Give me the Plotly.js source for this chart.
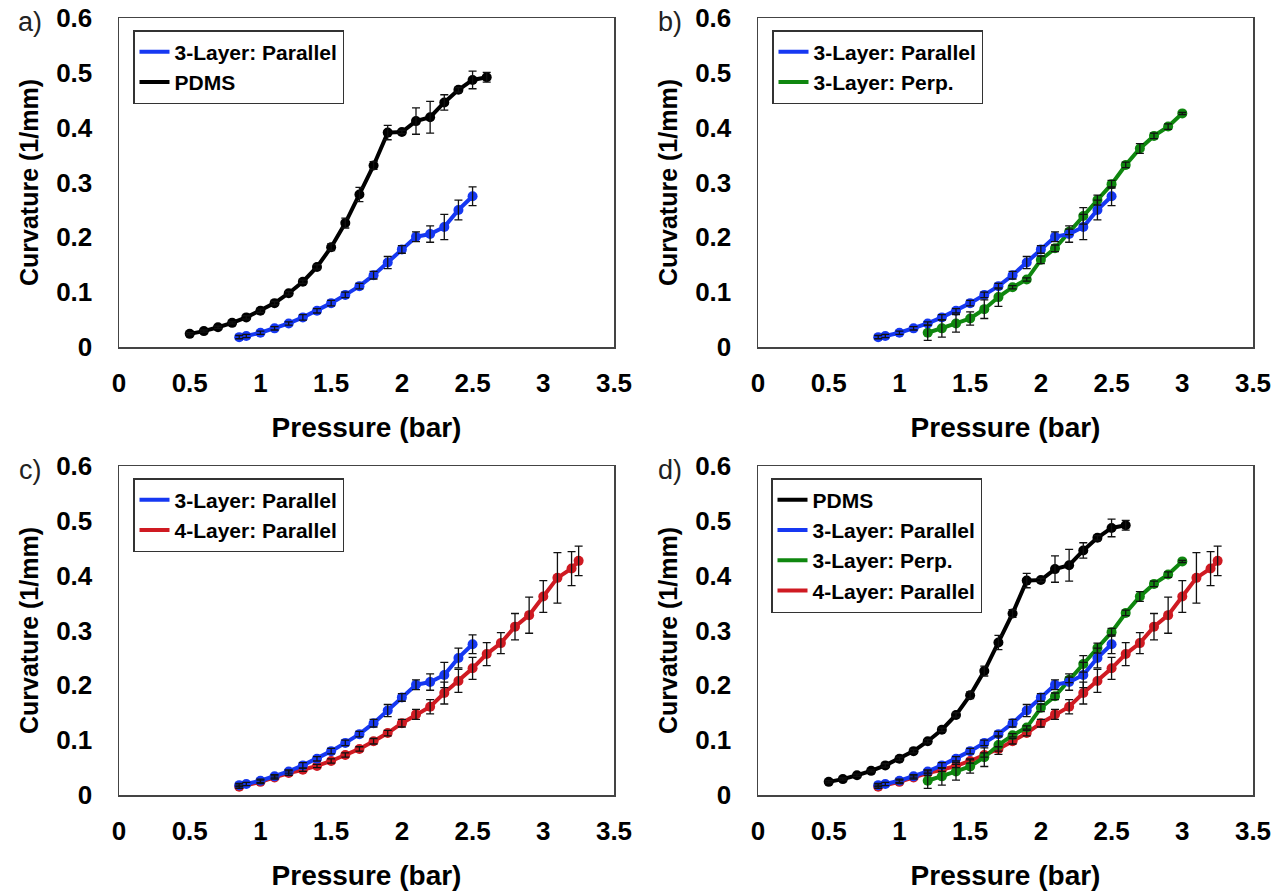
<!DOCTYPE html>
<html>
<head>
<meta charset="utf-8">
<script src="https://cdn.plot.ly/plotly-3.0.1.min.js"></script>
<style>html,body{margin:0;padding:0;background:#fff;}#chart{width:1283px;height:895px;}</style>
</head>
<body>
<div id="chart"></div>
<script>
// ---- Data (pressure in bar, curvature in 1/mm, error = +/- std) ----
const pdmsX   = [0.5, 0.6, 0.7, 0.8, 0.9, 1.0, 1.1, 1.2, 1.3, 1.4, 1.5, 1.6, 1.7, 1.8, 1.9, 2.0, 2.1, 2.2, 2.3, 2.4, 2.5, 2.6];
const pdmsY   = [0.024, 0.029, 0.036, 0.044, 0.054, 0.066, 0.080, 0.098, 0.119, 0.146, 0.182, 0.226, 0.278, 0.331, 0.391, 0.392, 0.412, 0.419, 0.446, 0.469, 0.487, 0.492];
const pdmsErr = [0.002, 0.002, 0.002, 0.002, 0.003, 0.003, 0.003, 0.003, 0.003, 0.004, 0.006, 0.009, 0.013, 0.007, 0.013, 0.003, 0.024, 0.029, 0.014, 0.004, 0.016, 0.009];

const par3X   = [0.85, 0.9, 1.0, 1.1, 1.2, 1.3, 1.4, 1.5, 1.6, 1.7, 1.8, 1.9, 2.0, 2.1, 2.2, 2.3, 2.4, 2.5];
const par3Y   = [0.018, 0.020, 0.026, 0.034, 0.043, 0.054, 0.066, 0.080, 0.095, 0.111, 0.131, 0.154, 0.178, 0.201, 0.206, 0.219, 0.250, 0.275];
const par3Err = [0.003, 0.003, 0.003, 0.003, 0.003, 0.005, 0.004, 0.005, 0.005, 0.005, 0.007, 0.011, 0.007, 0.009, 0.015, 0.023, 0.018, 0.017];

const perp3X   = [1.2, 1.3, 1.4, 1.5, 1.6, 1.7, 1.8, 1.9, 2.0, 2.1, 2.2, 2.3, 2.4, 2.5, 2.6, 2.7, 2.8, 2.9, 3.0];
const perp3Y   = [0.026, 0.034, 0.043, 0.052, 0.069, 0.091, 0.109, 0.123, 0.159, 0.180, 0.210, 0.239, 0.268, 0.297, 0.332, 0.362, 0.385, 0.402, 0.426];
const perp3Err = [0.014, 0.016, 0.016, 0.012, 0.017, 0.017, 0.003, 0.003, 0.007, 0.006, 0.005, 0.015, 0.009, 0.007, 0.005, 0.009, 0.005, 0.005, 0.002];

const par4X   = [0.85, 1.0, 1.1, 1.2, 1.3, 1.4, 1.5, 1.6, 1.7, 1.8, 1.9, 2.0, 2.1, 2.2, 2.3, 2.4, 2.5, 2.6, 2.7, 2.8, 2.9, 3.0, 3.1, 3.2, 3.25];
const par4Y   = [0.015, 0.024, 0.032, 0.040, 0.046, 0.053, 0.062, 0.073, 0.084, 0.098, 0.113, 0.131, 0.147, 0.161, 0.186, 0.208, 0.231, 0.257, 0.277, 0.307, 0.328, 0.362, 0.396, 0.413, 0.427];
const par4Err = [0.003, 0.003, 0.003, 0.004, 0.003, 0.003, 0.004, 0.004, 0.004, 0.005, 0.005, 0.007, 0.009, 0.013, 0.020, 0.021, 0.020, 0.021, 0.019, 0.024, 0.033, 0.029, 0.046, 0.031, 0.027];

const xTickVals = [0, 0.5, 1, 1.5, 2, 2.5, 3, 3.5];
const yTickVals = [0, 0.1, 0.2, 0.3, 0.4, 0.5, 0.6];
const panelLabels = ['a)', 'b)', 'c)', 'd)'];
const xTitle = 'Pressure (bar)';
const yTitle = 'Curvature (1/mm)';

// ---- Styling ----
const FONT = 'Liberation Sans, Arial, Helvetica, sans-serif';
const series = {
  pdms:  {name: 'PDMS',              x: pdmsX,  y: pdmsY,  e: pdmsErr,  color: '#000000'},
  par3:  {name: '3-Layer: Parallel', x: par3X,  y: par3Y,  e: par3Err,  color: '#1638f2'},
  perp3: {name: '3-Layer: Perp.',    x: perp3X, y: perp3Y, e: perp3Err, color: '#0f870f'},
  par4:  {name: '4-Layer: Parallel', x: par4X,  y: par4Y,  e: par4Err,  color: '#cf1a22'}
};

const panels = [
  {xa: 'x',  ya: 'y',  legend: 'legend',  draw: ['pdms', 'par3'],                   order: ['par3', 'pdms']},
  {xa: 'x2', ya: 'y2', legend: 'legend2', draw: ['perp3', 'par3'],                  order: ['par3', 'perp3']},
  {xa: 'x3', ya: 'y3', legend: 'legend3', draw: ['par4', 'par3'],                   order: ['par3', 'par4']},
  {xa: 'x4', ya: 'y4', legend: 'legend4', draw: ['par4', 'perp3', 'par3', 'pdms'],  order: ['pdms', 'par3', 'perp3', 'par4']}
];

const traces = [];
panels.forEach(p => {
  p.draw.forEach(key => {
    const s = series[key];
    traces.push({
      type: 'scatter', mode: 'lines', x: s.x, y: s.y, name: s.name,
      xaxis: p.xa, yaxis: p.ya, legend: p.legend, legendrank: p.order.indexOf(key) + 1,
      line: {color: s.color, width: 4}, hoverinfo: 'skip'
    });
    traces.push({
      type: 'scatter', mode: 'markers', x: s.x, y: s.y, name: s.name, showlegend: false,
      xaxis: p.xa, yaxis: p.ya, marker: {color: s.color, size: 10}
    });
  });
  p.draw.forEach(key => {
    const s = series[key];
    traces.push({
      type: 'scatter', mode: 'markers', x: s.x, y: s.y, name: s.name, showlegend: false,
      xaxis: p.xa, yaxis: p.ya, marker: {color: s.color, size: 1, opacity: 0},
      error_y: {type: 'data', array: s.e, visible: true, color: '#111', thickness: 1.3, width: 4},
      hoverinfo: 'skip'
    });
  });
});

const W = 1283, H = 895;
const xDomL = [119 / W, 614 / W], xDomR = [758 / W, 1253 / W];
const yDomT = [1 - 347 / H, 1 - 18 / H], yDomB = [1 - 795 / H, 1 - 466 / H];

function xAxis(domain, anchor) {
  return {
    domain: domain, anchor: anchor, range: [0, 3.5], tickvals: xTickVals, ticks: '',
    showgrid: false, zeroline: false, showline: true, mirror: true, linecolor: '#444', linewidth: 1.5,
    tickfont: {family: FONT, size: 26, weight: 'bold', color: '#000'}, ticklabelstandoff: 12,
    title: {text: xTitle, font: {family: FONT, size: 28, weight: 'bold', color: '#000'}, standoff: 20},
    fixedrange: true
  };
}
function yAxis(domain, anchor) {
  return {
    domain: domain, anchor: anchor, range: [0, 0.6], tickvals: yTickVals, ticks: '',
    showgrid: false, zeroline: false, showline: true, mirror: true, linecolor: '#444', linewidth: 1.5,
    tickfont: {family: FONT, size: 26, weight: 'bold', color: '#000'}, ticklabelstandoff: 20,
    title: {text: yTitle, font: {family: FONT, size: 25, weight: 'bold', color: '#000'}, standoff: 10},
    fixedrange: true
  };
}
function legendBox(x, y) {
  return {
    x: x, y: y, xanchor: 'left', yanchor: 'top', bgcolor: '#fff', bordercolor: '#333', borderwidth: 1.5,
    font: {family: FONT, size: 21, weight: 'bold', color: '#000'}, itemwidth: 30, tracegroupgap: 0,
    traceorder: 'normal'
  };
}

const labelPos = [[30, 22], [670, 22], [30, 470], [670, 470]];
const annotations = panelLabels.map((t, i) => ({
  text: t, xref: 'paper', yref: 'paper', x: labelPos[i][0] / W, y: 1 - labelPos[i][1] / H,
  xanchor: 'center', yanchor: 'middle', showarrow: false,
  font: {family: FONT, size: 27, color: '#222'}
}));

const layout = {
  width: W, height: H, margin: {l: 0, r: 0, t: 0, b: 0},
  paper_bgcolor: '#fff', plot_bgcolor: '#fff', showlegend: true,
  xaxis: xAxis(xDomL, 'y'),   yaxis: yAxis(yDomT, 'x'),
  xaxis2: xAxis(xDomR, 'y2'), yaxis2: yAxis(yDomT, 'x2'),
  xaxis3: xAxis(xDomL, 'y3'), yaxis3: yAxis(yDomB, 'x3'),
  xaxis4: xAxis(xDomR, 'y4'), yaxis4: yAxis(yDomB, 'x4'),
  legend: legendBox(133 / W, 1 - 30 / H),
  legend2: legendBox(772 / W, 1 - 30 / H),
  legend3: legendBox(133 / W, 1 - 478 / H),
  legend4: legendBox(771 / W, 1 - 478 / H),
  annotations: annotations
};

Plotly.newPlot('chart', traces, layout, {displayModeBar: false, staticPlot: true});
</script>
</body>
</html>
